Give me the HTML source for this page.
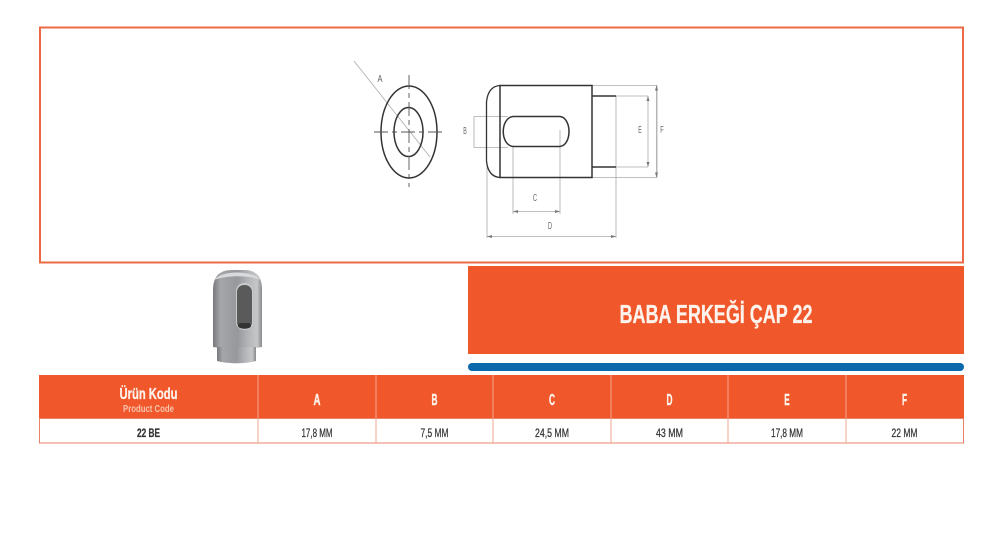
<!DOCTYPE html>
<html><head><meta charset="utf-8"><style>
html,body{margin:0;padding:0;background:#fff;width:1000px;height:543px;overflow:hidden}
svg{display:block}
text{font-family:"Liberation Sans Narrow","Liberation Sans",sans-serif;font-weight:bold;text-anchor:middle}
.w{fill:#fdf3ec}.k{fill:#333;font-size:11.5px;font-weight:normal;stroke:#333;stroke-width:.25}
.d text{font-weight:normal;fill:#666;font-size:10px;stroke:none}
</style></head><body>
<svg width="1000" height="543" viewBox="0 0 1000 543" xmlns="http://www.w3.org/2000/svg">
<defs>
<linearGradient id="m" x1="0" x2="1" y1="0" y2="0">
<stop offset="0" stop-color="#77797c"/><stop offset=".15" stop-color="#a5a6a9"/><stop offset=".5" stop-color="#97989c"/><stop offset=".72" stop-color="#b4b5b8"/><stop offset=".9" stop-color="#c6c7c9"/><stop offset="1" stop-color="#88898c"/>
</linearGradient>
</defs>
<rect x="40" y="27.500" width="923" height="235" fill="#fff" stroke="#ee6a45" stroke-width="2"/>

<!-- drawing -->
<g fill="none" stroke="#aaa" stroke-width=".8">
<path d="M354 61L430 157"/>
<path d="M592 85.500H657V177.500H592M616 96H648M616 167H648M616 96V238"/>
<path d="M648 96V167M656.500 85.500V177.500"/>
<path d="M474 116.500H508M474 147.500H508M474 116.500V147.500"/>
<path d="M513 147V214M560 130V214M513 211.500H560"/>
<path d="M487 165V238M487 236.500H616"/>
</g>
<g fill="none" stroke="#333" stroke-width="1.500">
<ellipse cx="409" cy="132" rx="28" ry="46"/>
<ellipse cx="408.500" cy="132" rx="14.500" ry="24.500"/>
<path d="M500 85.500H592V177.500H500Z"/>
<path d="M500 85.500C492 86 487.500 92 486.500 102V161C487.500 171 492 177 500 177.500" stroke-width="1.300"/>
<path d="M592 96H616M592 167H616"/>
<path d="M513 116.500H560C572 118 572 145 560 146.500H513C500 145 500 118 513 116.500Z"/>
</g>
<path d="M409 75V187M374 132H443" fill="none" stroke="#555" stroke-width=".9" stroke-dasharray="14 4 5 4"/>
<g fill="#777">
<path d="M513 211.500l5-1.500v3zM560 211.500l-5-1.500v3zM487 236.500l5-1.500v3zM616 236.500l-5-1.500v3zM648 96l-1.500 5h3zM648 167l-1.500-5h3zM656.500 85.500l-1.500 5h3zM656.500 177.500l-1.500-5h3z"/>
</g>
<g class="d">
<text x="380" y="82" textLength="5" lengthAdjust="spacingAndGlyphs">A</text>
<text x="465" y="134" textLength="3.500" lengthAdjust="spacingAndGlyphs">B</text>
<text x="535" y="201" textLength="4" lengthAdjust="spacingAndGlyphs">C</text>
<text x="550" y="229" textLength="4" lengthAdjust="spacingAndGlyphs">D</text>
<text x="640" y="133" textLength="3.500" lengthAdjust="spacingAndGlyphs">E</text>
<text x="662" y="133" textLength="3.500" lengthAdjust="spacingAndGlyphs">F</text>
</g>

<!-- product -->
<path d="M213 347V290C213 276 220 270 232 270H244C256 270 262 276 262 290V347C250 349 225 349 213 347Z" fill="url(#m)"/>
<path d="M217 347H256V361C245 364 228 364 217 361Z" fill="url(#m)"/>
<path d="M214 280C222 270 252 270 261 280C250 275 226 275 214 280Z" fill="#d9dadc"/>
<rect x="236" y="283" width="17" height="47" rx="8" fill="#c9cacc"/>
<rect x="237" y="285" width="15" height="44" rx="7" fill="#5a5a5a"/>
<rect x="238" y="323" width="13" height="5" rx="2.500" fill="#333"/>

<!-- title -->
<rect x="468" y="266" width="496" height="88" fill="#f0572a"/>
<rect x="468" y="363" width="496" height="8" rx="4" fill="#0a68ab"/>
<text class="w" x="716" y="323" font-size="26" stroke="#fdf3ec" stroke-width=".3" textLength="193" lengthAdjust="spacingAndGlyphs">BABA ERKEĞİ ÇAP 22</text>

<!-- table -->
<rect x="39" y="375" width="925" height="43" fill="#f0572a"/>
<rect x="39.500" y="418.500" width="924" height="24.500" fill="#fff" stroke="#e8836a"/>
<path d="M258 375V443M376 375V443M493 375V443M611 375V443M728 375V443M846 375V443" stroke="#f2a68f" stroke-width="1"/>
<text class="w" x="148.500" y="399" font-size="16" stroke="#fdf3ec" stroke-width=".3" textLength="58" lengthAdjust="spacingAndGlyphs">Ürün Kodu</text>
<text x="148.500" y="412" font-size="10.500" style="fill:#f9c4ae" textLength="51" lengthAdjust="spacingAndGlyphs">Product Code</text>
<g class="w" font-size="16" stroke="#fdf3ec" stroke-width=".4">
<text x="317" y="405" textLength="7" lengthAdjust="spacingAndGlyphs">A</text>
<text x="434.500" y="405" textLength="6" lengthAdjust="spacingAndGlyphs">B</text>
<text x="552" y="405" textLength="6" lengthAdjust="spacingAndGlyphs">C</text>
<text x="669.500" y="405" textLength="6" lengthAdjust="spacingAndGlyphs">D</text>
<text x="787" y="405" textLength="5.500" lengthAdjust="spacingAndGlyphs">E</text>
<text x="904.500" y="405" textLength="5" lengthAdjust="spacingAndGlyphs">F</text>
</g>
<text class="k" x="148.500" y="437" style="font-weight:bold" textLength="23" lengthAdjust="spacingAndGlyphs">22 BE</text>
<text class="k" x="317" y="437" textLength="31" lengthAdjust="spacingAndGlyphs">17,8 MM</text>
<text class="k" x="434.500" y="437" textLength="28" lengthAdjust="spacingAndGlyphs">7,5 MM</text>
<text class="k" x="552" y="437" textLength="34" lengthAdjust="spacingAndGlyphs">24,5 MM</text>
<text class="k" x="669.500" y="437" textLength="27" lengthAdjust="spacingAndGlyphs">43 MM</text>
<text class="k" x="787" y="437" textLength="32" lengthAdjust="spacingAndGlyphs">17,8 MM</text>
<text class="k" x="904.500" y="437" textLength="26" lengthAdjust="spacingAndGlyphs">22 MM</text>
</svg>
</body></html>
